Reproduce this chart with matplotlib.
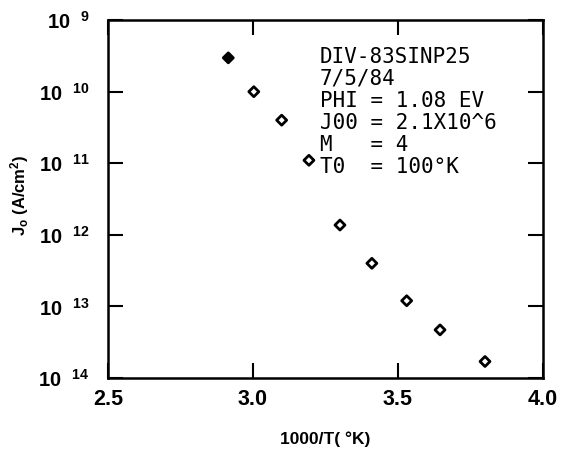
import matplotlib
matplotlib.use("Agg")
import matplotlib.pyplot as plt
from matplotlib.ticker import FixedLocator, FixedFormatter, NullLocator

# data
inv_temp = [2.915, 3.003, 3.099, 3.193, 3.300, 3.410, 3.530, 3.645, 3.800]
j0 = [2.97e-10, 1.0e-10, 4.0e-11, 1.1e-11, 1.37e-12, 4.0e-13, 1.2e-13, 4.7e-14, 1.7e-14]

y_ticks = [1e-9, 1e-10, 1e-11, 1e-12, 1e-13, 1e-14]
y_tick_labels = ["10  $^{9}$", "10  $^{10}$", "10  $^{11}$", "10  $^{12}$", "10  $^{13}$", "10  $^{14}$"]
x_ticks = [2.5, 3.0, 3.5, 4.0]
x_tick_labels = ["2.5", "3.0", "3.5", "4.0"]

note_lines = ["DIV-83SINP25", "7/5/84", "PHI = 1.08 EV", "J00 = 2.1X10^6", "M   = 4", "T0  = 100°K"]

plt.rcParams["font.family"] = "Liberation Sans"
plt.rcParams["font.weight"] = "bold"
plt.rcParams["mathtext.fontset"] = "custom"
plt.rcParams["mathtext.rm"] = "Liberation Sans:bold"
plt.rcParams["mathtext.bf"] = "Liberation Sans:bold"
plt.rcParams["mathtext.it"] = "Liberation Sans:bold"

fig = plt.figure(figsize=(5.68, 4.53), dpi=100)
ax = fig.add_axes([0.190, 0.1656, 0.766, 0.790])

colors = ["black"] + ["white"] * (len(inv_temp) - 1)
ax.scatter(inv_temp, j0, marker="D", s=26, facecolors=colors, edgecolors="black",
           linewidths=2.0, zorder=3)

ax.set_yscale("log")
ax.set_xlim(2.5, 4.0)
ax.set_ylim(1e-14, 1e-9)

ax.yaxis.set_major_locator(FixedLocator(y_ticks))
ax.yaxis.set_major_formatter(FixedFormatter(y_tick_labels))
ax.yaxis.set_minor_locator(NullLocator())
ax.xaxis.set_major_locator(FixedLocator(x_ticks))
ax.xaxis.set_major_formatter(FixedFormatter(x_tick_labels))

ax.tick_params(axis="both", which="major", direction="in", length=11, width=1.5,
               top=True, right=True)
ax.tick_params(axis="x", pad=8, labelsize=15.5)
ax.tick_params(axis="y", pad=13, labelsize=14.5)

for s in ax.spines.values():
    s.set_linewidth(1.8)

ax.set_xlabel("1000/T( °K)", fontsize=12.5, fontweight="bold")
ax.xaxis.set_label_coords(0.5, -0.148)
ax.set_ylabel("J$_\\mathrm{o}$ (A/cm$^2$)", fontsize=12, fontweight="bold")
ax.yaxis.set_label_coords(-0.176, 0.51)

ax.text(0.487, 0.925, "\n".join(note_lines), transform=ax.transAxes,
        family="DejaVu Sans Mono", fontweight="normal", fontsize=15, linespacing=1.12,
        va="top", ha="left")

fig.savefig("out.png", dpi=100)
